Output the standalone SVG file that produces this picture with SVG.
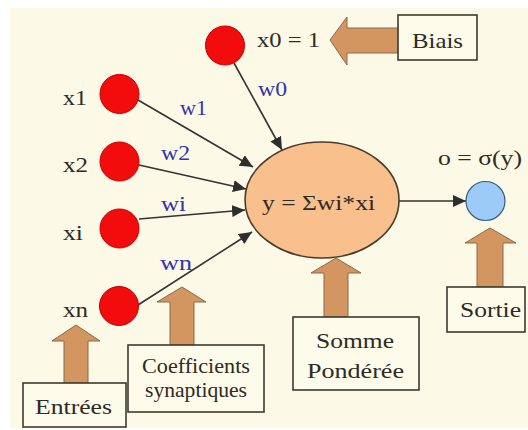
<svg xmlns="http://www.w3.org/2000/svg" width="528" height="430" viewBox="0 0 528 430">
<defs>
<style>
text{font-family:'Liberation Serif','Times New Roman','DejaVu Serif',serif}
.t{fill:#2e2a24;font-size:21px}
.w{fill:#3434a8;font-size:21px}
.b{fill:#2e2a24;font-size:22px}
.in{fill:#f20c0c;stroke:#c40000;stroke-width:1}
.box{fill:#fdfbea;stroke:#3e3a30;stroke-width:1.6}
.ba{fill:#d39660;stroke:#8a6a4a;stroke-width:1}
.c{stroke:#333;stroke-width:1.6;fill:none;marker-end:url(#ah)}
</style>
<marker id="ah" markerUnits="userSpaceOnUse" markerWidth="14" markerHeight="12" viewBox="0 0 14 12" refX="13" refY="6" orient="auto">
<path d="M0,0 L13,6 L0,12 Z" fill="#2e2e2e"/>
</marker>
</defs>
<rect x="0" y="0" width="528" height="430" fill="#ffffff"/>
<rect x="10" y="8" width="518" height="420" fill="#fcf9e6"/>

<g id="connectors">
<line class="c" x1="234" y1="63" x2="282" y2="150"/>
<line class="c" x1="138" y1="100" x2="253" y2="167"/>
<line class="c" x1="139" y1="165" x2="246" y2="189"/>
<line class="c" x1="139" y1="219" x2="245" y2="210"/>
<line class="c" x1="138" y1="305" x2="252" y2="232"/>
<line class="c" x1="399" y1="201" x2="466" y2="201"/>
</g>

<g id="x0">
<circle class="in" cx="225" cy="45.5" r="19.5"/>
<text class="t" x="257" y="47" textLength="63" lengthAdjust="spacingAndGlyphs">x0 = 1</text>
</g>
<g id="x1">
<circle class="in" cx="119.5" cy="94" r="19.5"/>
<text class="t" x="63" y="105" textLength="24" lengthAdjust="spacingAndGlyphs">x1</text>
</g>
<g id="x2">
<circle class="in" cx="119.5" cy="161.5" r="19.5"/>
<text class="t" x="63" y="172" textLength="25" lengthAdjust="spacingAndGlyphs">x2</text>
</g>
<g id="xi">
<circle class="in" cx="119.5" cy="228.5" r="19.5"/>
<text class="t" x="63" y="240" textLength="20" lengthAdjust="spacingAndGlyphs">xi</text>
</g>
<g id="xn">
<circle class="in" cx="119" cy="306" r="19.5"/>
<text class="t" x="63" y="317" textLength="25" lengthAdjust="spacingAndGlyphs">xn</text>
</g>

<g id="weights">
<text class="w" x="258" y="96" textLength="29" lengthAdjust="spacingAndGlyphs">w0</text>
<text class="w" x="180" y="115" textLength="27" lengthAdjust="spacingAndGlyphs">w1</text>
<text class="w" x="161" y="160" textLength="29" lengthAdjust="spacingAndGlyphs">w2</text>
<text class="w" x="161" y="211" textLength="25" lengthAdjust="spacingAndGlyphs">wi</text>
<text class="w" x="160" y="270" textLength="32" lengthAdjust="spacingAndGlyphs">wn</text>
</g>

<g id="sum">
<ellipse cx="322" cy="200" rx="77" ry="58" fill="#f9c08e" stroke="#4a3c2c" stroke-width="1.6"/>
<text class="t" x="262" y="210" textLength="113" lengthAdjust="spacingAndGlyphs">y = Σwi*xi</text>
</g>

<g id="output">
<circle cx="485.5" cy="201" r="19.5" fill="#9ccbf7" stroke="#3a5a86" stroke-width="1.2"/>
<text class="t" x="438" y="165" textLength="84" lengthAdjust="spacingAndGlyphs">o = σ(y)</text>
</g>

<g id="biais">
<polygon class="ba" points="330,40 347,17 347,28 398,28 398,53 347,53 347,65"/>
<rect class="box" x="398" y="15" width="79" height="45"/>
<text class="b" x="412" y="48" textLength="51" lengthAdjust="spacingAndGlyphs">Biais</text>
</g>

<g id="entrees">
<polygon class="ba" points="76,325 100,341 88,341 88,383 64,383 64,341 52,341"/>
<rect class="box" x="23" y="383" width="103" height="44"/>
<text class="b" x="35" y="414" textLength="77" lengthAdjust="spacingAndGlyphs">Entrées</text>
</g>

<g id="coefficients">
<polygon class="ba" points="182,287 206,302 194,302 194,345 170,345 170,302 157,302"/>
<rect class="box" x="128" y="345" width="136" height="67"/>
<text class="b" x="142" y="373" textLength="108" lengthAdjust="spacingAndGlyphs">Coefficients</text>
<text class="b" x="145" y="397" textLength="102" lengthAdjust="spacingAndGlyphs">synaptiques</text>
</g>

<g id="somme">
<polygon class="ba" points="336,258 361,273 348,273 348,317 324,317 324,273 311,273"/>
<rect class="box" x="293" y="317" width="126" height="73"/>
<text class="b" x="316" y="348" textLength="78" lengthAdjust="spacingAndGlyphs">Somme</text>
<text class="b" x="307" y="378" textLength="97" lengthAdjust="spacingAndGlyphs">Pondérée</text>
</g>

<g id="sortie">
<polygon class="ba" points="490,228 516,243 503,243 503,287 477,287 477,243 465,243"/>
<rect class="box" x="447" y="287" width="78" height="45"/>
<text class="b" x="460" y="317" textLength="61" lengthAdjust="spacingAndGlyphs">Sortie</text>
</g>
</svg>
